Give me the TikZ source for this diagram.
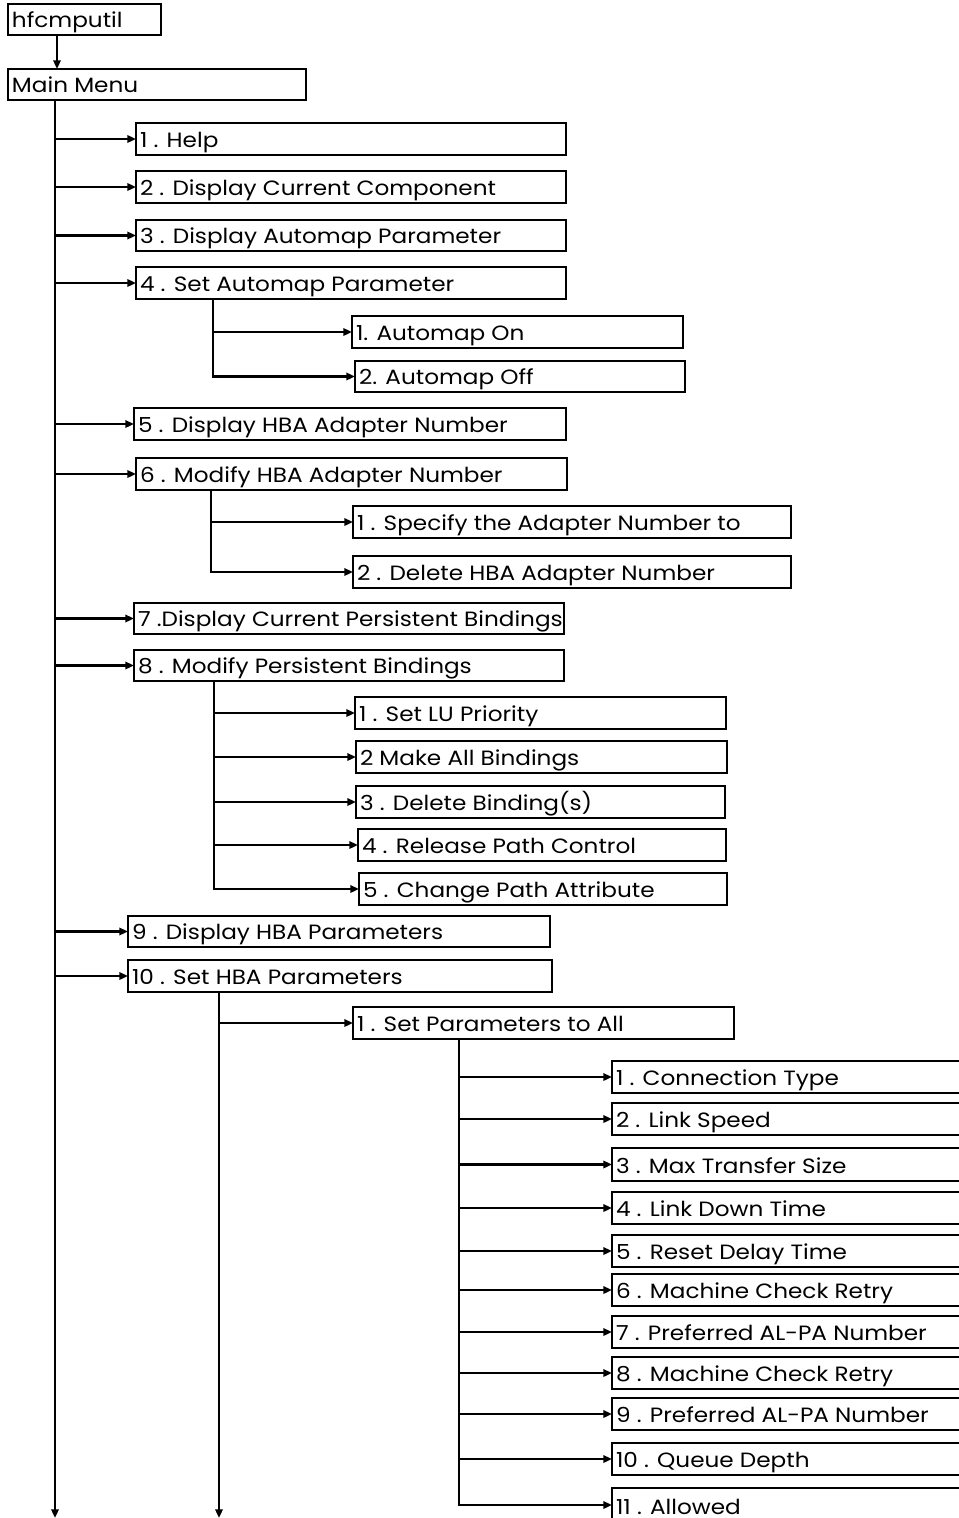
\documentclass[tikz,border=0pt]{standalone}
\usepackage{fontspec}
\setmainfont{Poppins}[FakeStretch=1.12]
\usetikzlibrary{arrows.meta}

\tikzset{
  box/.style={draw=black, line width=1.5pt, inner sep=0pt, outer sep=0pt, fill=white},
  lbl/.style={inner sep=0pt, outer sep=0pt, font=\fontsize{15.5pt}{17pt}\selectfont},
  link/.style={line width=1.7pt, -{Triangle[length=6.5pt,width=5.5pt]}},
  bar/.style={line width=1.7pt}
}

% \menubox{name}{x1}{y1}{x2}{y2}{text}: framed menu entry, text on a baseline near the bottom
\newcommand{\menubox}[6]{%
  \node[box, anchor=north west, minimum width={(#4-#2)*0.75pt}, minimum height={(#5-#3)*0.75pt}] (#1) at (#2,#3) {};
  \node[lbl, anchor=base west] (#1-t) at (#2+4,#5-7.5) {#6};}

\begin{document}
\begin{tikzpicture}[x=0.75pt, y=-0.75pt]
\useasboundingbox (0,0) rectangle (959,1518);
\fill[white] (0,0) rectangle (959,1518);

% top level
\menubox{hf}{8}{4}{161}{35}{hfcmputil}
\menubox{mm}{8}{69}{306}{100}{Main Menu}

% main menu entries
\menubox{a1}{136}{123}{566}{155}{1 . Help}
\menubox{a2}{136}{171}{566}{203}{2 . Display Current Component}
\menubox{a3}{136}{220}{566}{251}{3 . Display Automap Parameter}
\menubox{a4}{136}{267}{566}{299}{4 . Set Automap Parameter}
\menubox{a4s1}{352}{316}{683}{348}{1. Automap On}
\menubox{a4s2}{355}{361}{685}{392}{2. Automap Off}
\menubox{a5}{134}{408}{566}{440}{5 . Display HBA Adapter Number}
\menubox{a6}{136}{458}{567}{490}{6 . Modify HBA Adapter Number}
\menubox{a6s1}{353}{506}{791}{538}{1 . Specify the Adapter Number to}
\menubox{a6s2}{353}{556}{791}{588}{2 . Delete HBA Adapter Number}
\menubox{a7}{134}{603}{564}{634}{7 .Display Current Persistent Bindings}
\menubox{a8}{134}{650}{564}{681}{8 . Modify Persistent Bindings}
\menubox{a8s1}{355}{697}{726}{729}{1 . Set LU Priority}
\menubox{a8s2}{356}{741}{727}{773}{2 Make All Bindings}
\menubox{a8s3}{356}{786}{725}{818}{3 . Delete Binding(s)}
\menubox{a8s4}{358}{829}{726}{861}{4 . Release Path Control}
\menubox{a8s5}{359}{873}{727}{905}{5 . Change Path Attribute}
\menubox{a9}{128}{916}{550}{947}{9 . Display HBA Parameters}
\menubox{a10}{128}{960}{552}{992}{10 . Set HBA Parameters}
\menubox{p}{353}{1007}{734}{1039}{1 . Set Parameters to All}

% HBA parameter entries
\menubox{q1}{612}{1061}{975}{1093}{1 . Connection Type}
\menubox{q2}{612}{1103}{975}{1135}{2 . Link Speed}
\menubox{q3}{612}{1148}{975}{1181}{3 . Max Transfer Size}
\menubox{q4}{612}{1192}{975}{1224}{4 . Link Down Time}
\menubox{q5}{612}{1235}{975}{1267}{5 . Reset Delay Time}
\menubox{q6}{612}{1274}{975}{1306}{6 . Machine Check Retry}
\menubox{q7}{612}{1316}{975}{1348}{7 . Preferred AL-PA Number}
\menubox{q8}{612}{1357}{975}{1389}{8 . Machine Check Retry}
\menubox{q9}{612}{1398}{975}{1430}{9 . Preferred AL-PA Number}
\menubox{q10}{612}{1443}{975}{1475}{10 . Queue Depth}
\menubox{q11}{612}{1488}{975}{1522}{11 . Allowed}

% trunk coordinates
\coordinate (h0) at (57,35);
\coordinate (t0) at (55,100);
\coordinate (t1) at (55,1518);
\coordinate (s4) at (213,299);
\coordinate (s6) at (211,490);
\coordinate (s8) at (214,681);
\coordinate (s10) at (219,992);
\coordinate (s10e) at (219,1518);
\coordinate (sp) at (459,1039);

\draw[link] (h0) -- (h0 |- mm.north);
\draw[link] (t0) -- (t1);
\draw[link] (s10) -- (s10e);

% main menu branches
\foreach \n in {a1,a2,a3,a4,a5,a6,a7,a8,a9,a10}
  \draw[link] (t0 |- \n.west) -- (\n.west);

% automap submenu
\draw[link] (s4) |- (a4s2.west);
\draw[link] (s4 |- a4s1.west) -- (a4s1.west);

% adapter number submenu
\draw[link] (s6) |- (a6s2.west);
\draw[link] (s6 |- a6s1.west) -- (a6s1.west);

% persistent bindings submenu
\draw[link] (s8) |- (a8s5.west);
\foreach \n in {a8s1,a8s2,a8s3,a8s4}
  \draw[link] (s8 |- \n.west) -- (\n.west);

% set HBA parameters submenu
\draw[link] (s10 |- p.west) -- (p.west);
\draw[link] (sp) |- (q11.west);
\foreach \n in {q1,q2,q3,q4,q5,q6,q7,q8,q9,q10}
  \draw[link] (sp |- \n.west) -- (\n.west);
\end{tikzpicture}
\end{document}
